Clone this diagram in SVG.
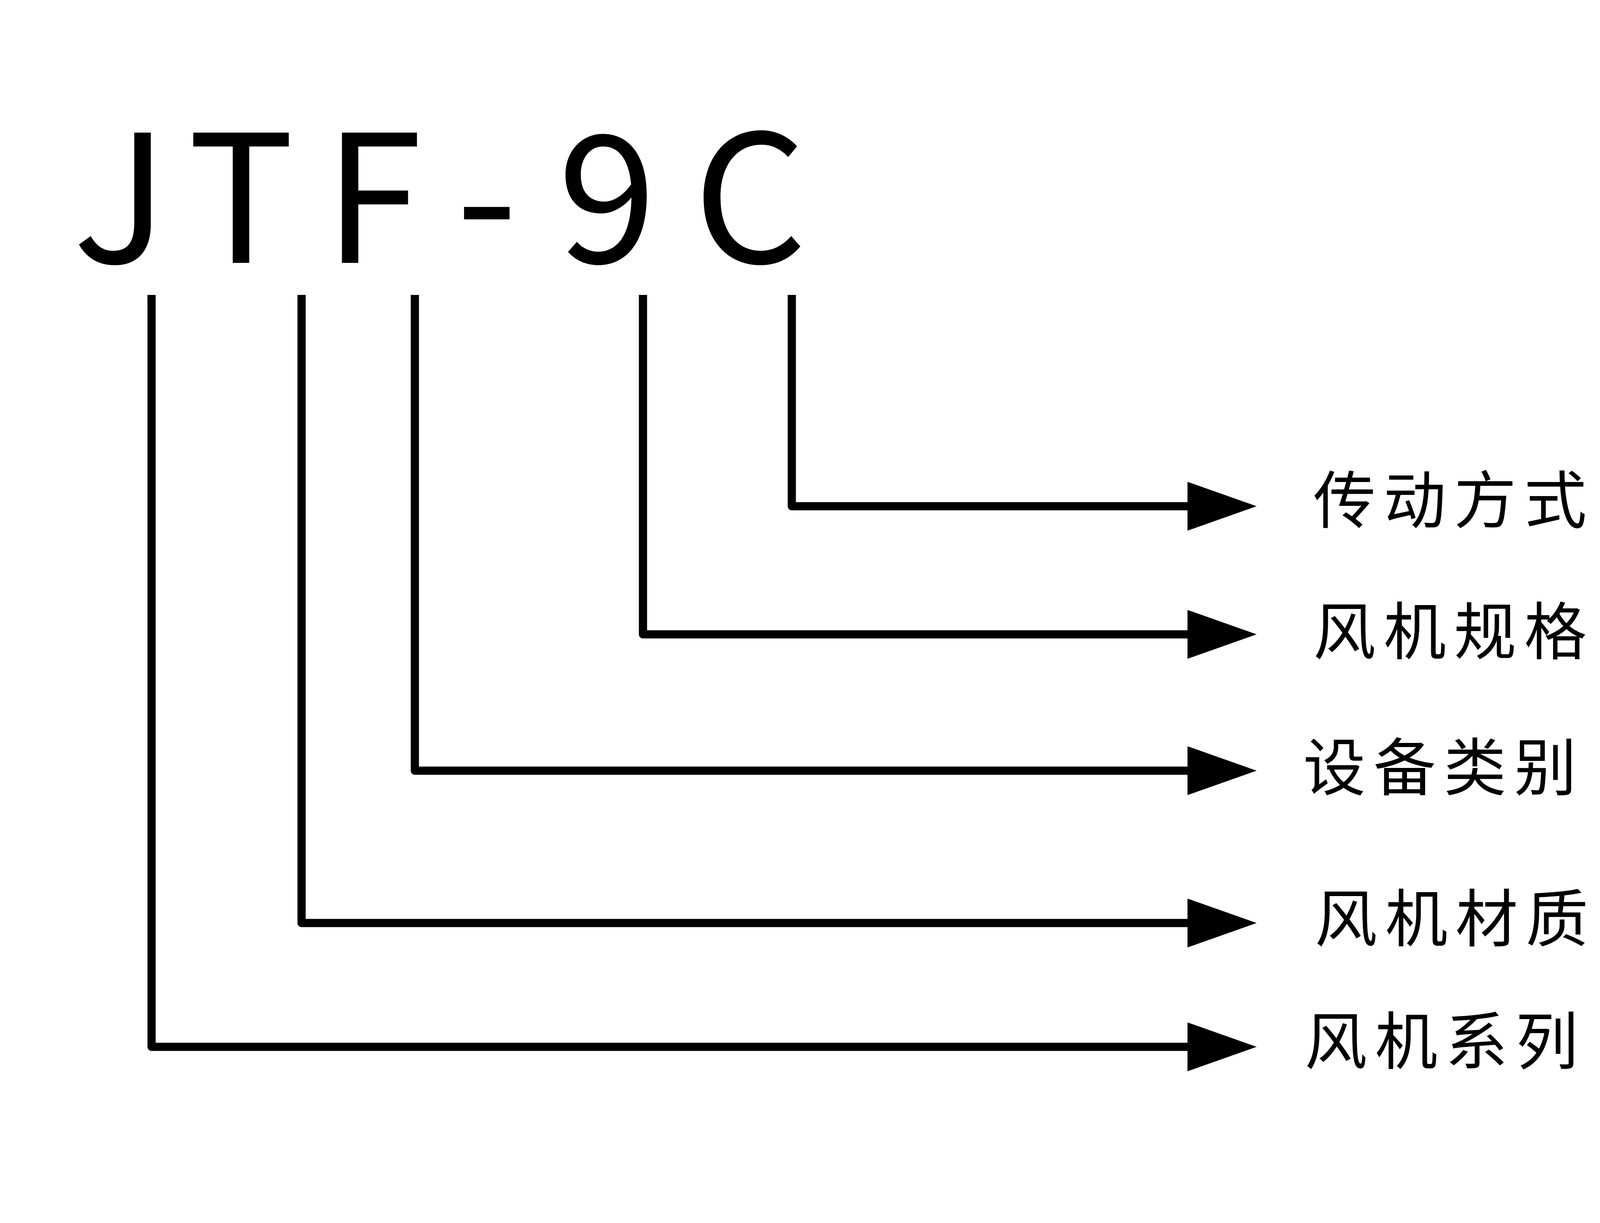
<svg xmlns="http://www.w3.org/2000/svg" width="6262" height="3131" viewBox="0 0 6262 3131">
<style>
.title{font-family:"Noto Sans CJK SC","Noto Sans",sans-serif;font-size:455px;fill:#000;text-anchor:middle}
.lbl{font-family:"Noto Sans CJK SC",sans-serif;font-size:160px;fill:#000;letter-spacing:20px}
.conn{fill:none;stroke:#000;stroke-width:21;stroke-linejoin:round}
</style>
<defs>
<marker id="arr" markerUnits="userSpaceOnUse" markerWidth="180" markerHeight="130" refX="0" refY="62.5" orient="auto">
<path d="M0,0 L177,62.5 L0,125 Z" fill="#000"/>
</marker>
</defs>
<rect width="6262" height="3131" fill="#fff"/>
<g id="code">
<text class="title" x="308 617 955 1246 1554 1920" y="673">JTF-9C</text>
</g>
<g id="connectors">
<path class="conn" d="M388,755 V2680 H3040" marker-end="url(#arr)"/>
<path class="conn" d="M772,755 V2363 H3040" marker-end="url(#arr)"/>
<path class="conn" d="M1062,755 V1973 H3040" marker-end="url(#arr)"/>
<path class="conn" d="M1646,755 V1624 H3040" marker-end="url(#arr)"/>
<path class="conn" d="M2027,755 V1296 H3040" marker-end="url(#arr)"/>
</g>
<g id="label-drive"><text class="lbl" x="3362" y="1339">传动方式（皮带式）</text></g>
<g id="label-spec"><text class="lbl" x="3362" y="1675">风机规格</text></g>
<g id="label-type"><text class="lbl" x="3336" y="2023">设备类别（风机）</text></g>
<g id="label-material"><text class="lbl" x="3366" y="2410">风机材质（碳钢）</text></g>
<g id="label-series"><text class="lbl" x="3340" y="2724">风机系列（标准）</text></g>
</svg>
